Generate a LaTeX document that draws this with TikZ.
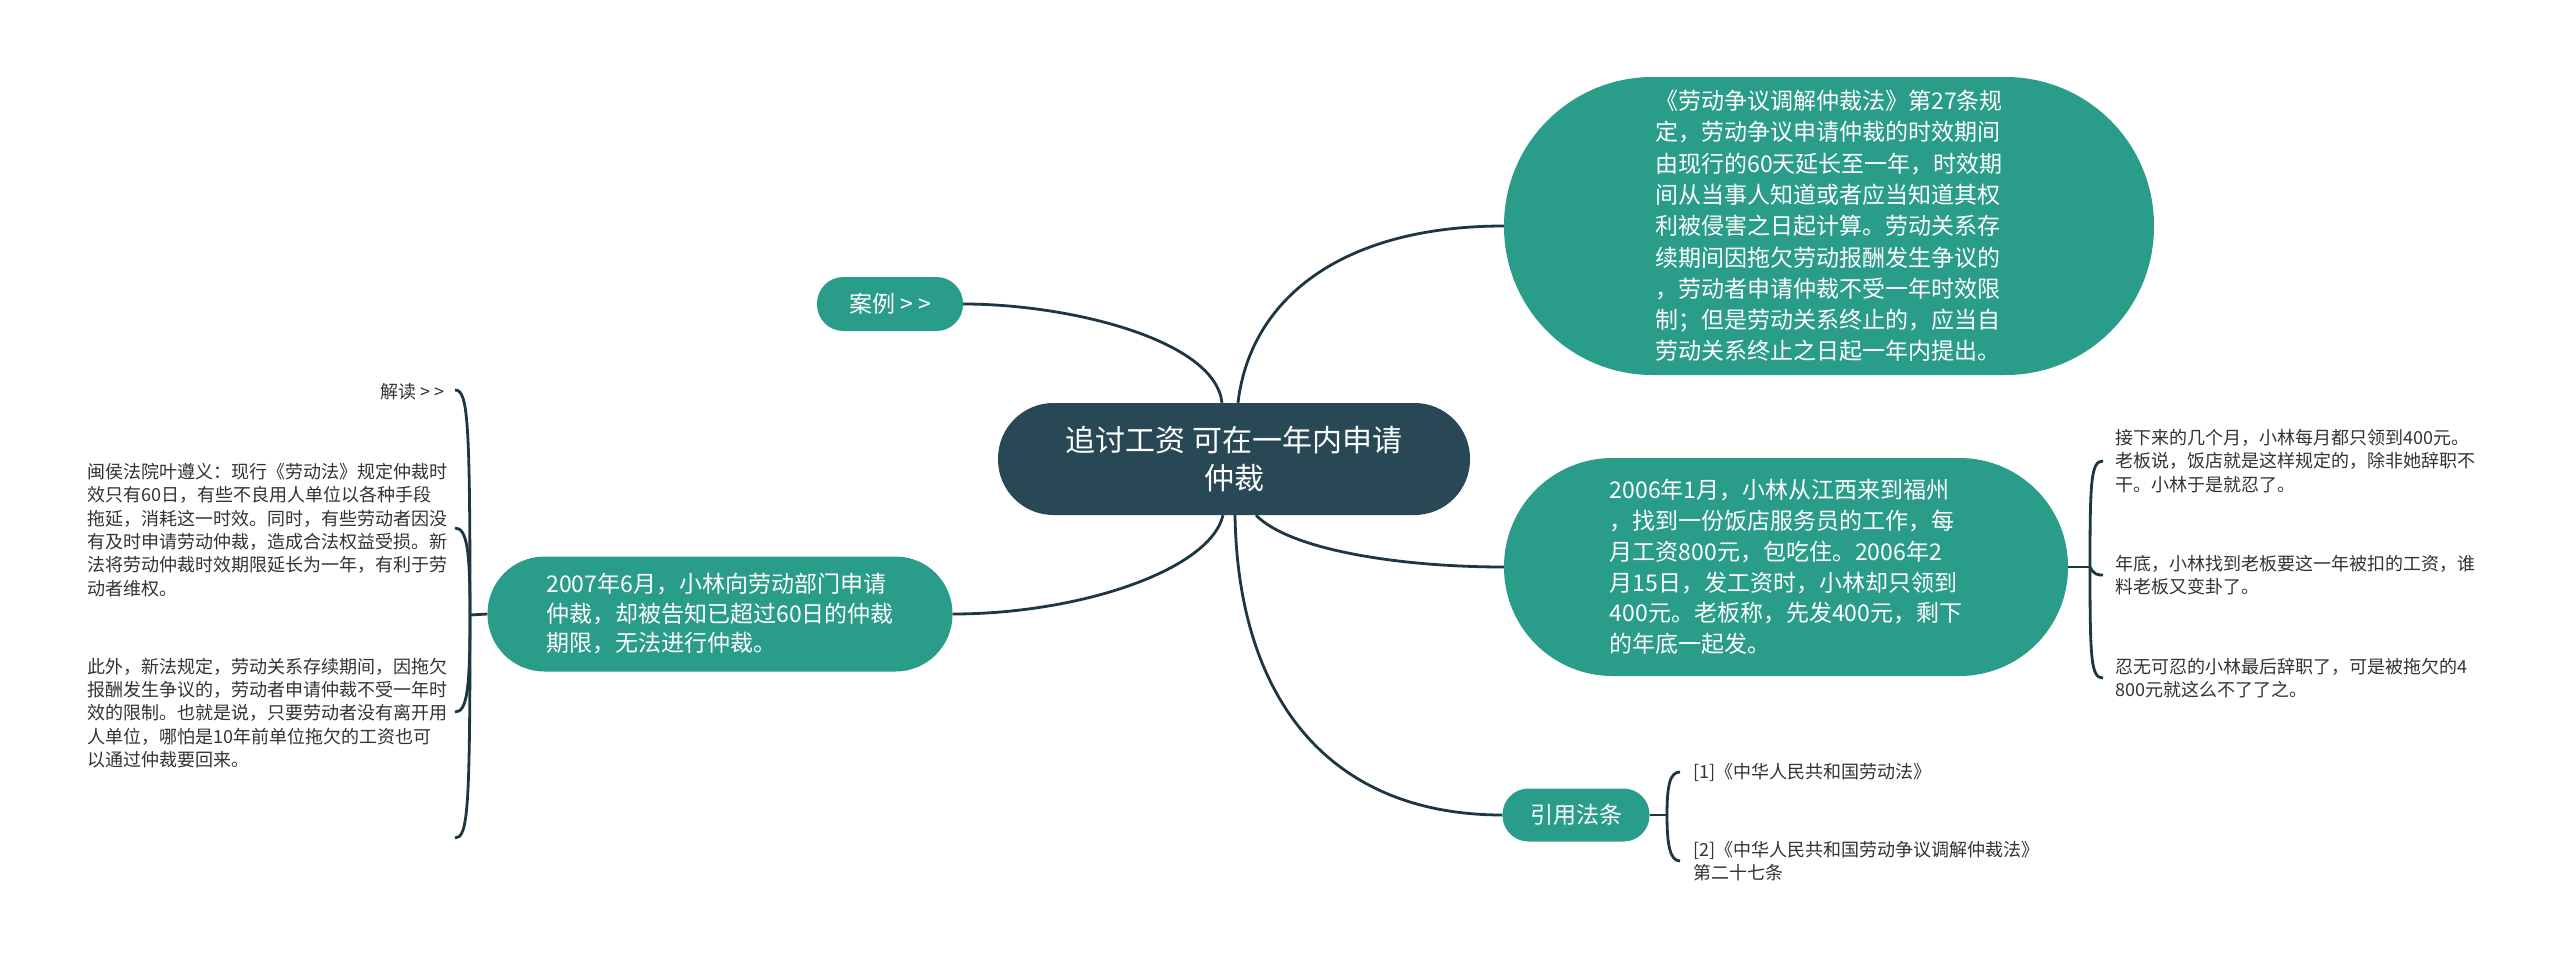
\documentclass[tikz,border=0pt]{standalone}
\usepackage{fontspec}
\setmainfont{Noto Sans CJK SC}
\usetikzlibrary{calc}
\definecolor{tealnode}{HTML}{2A9C8A}
\definecolor{navynode}{HTML}{284855}
\definecolor{linecol}{HTML}{1C3743}
\definecolor{leafcol}{HTML}{333333}
\newcommand{\nodefont}{\fontsize{23}{29.5}\selectfont}
\newcommand{\storyfont}{\fontsize{23}{30.8}\selectfont}
\newcommand{\lawfont}{\fontsize{23}{31.3}\selectfont}
\newcommand{\leaffont}{\fontsize{18}{23.4}\selectfont}
\begin{document}
\begin{tikzpicture}[x=1pt,y=-1pt,
  pill/.style={fill=tealnode, inner sep=0, text=white, align=left},
  conn/.style={draw=linecol, line width=2.8pt},
  leaf/.style={text=leafcol, align=left, inner sep=0, font=\leaffont},
]
\fill[white] (0,0) rectangle (2560,969);
\useasboundingbox (0,0) rectangle (2560,969);

% central topic
\node[fill=navynode, text=white, align=center, inner sep=0,
      minimum width=472pt, minimum height=112pt, rounded corners=55.5pt,
      font=\fontsize{30}{38}\selectfont] (root) at (1234,459)
      {追讨工资 可在一年内申请\\仲裁};

% main branches
\node[pill, minimum width=146pt, minimum height=54pt, rounded corners=26.5pt,
      font=\fontsize{23}{28}\selectfont] (case) at (890,304) {案例 > >};
\node[pill, minimum width=650pt, minimum height=298pt, rounded corners=148.5pt,
      font=\lawfont] (law) at (1829,226)
{《劳动争议调解仲裁法》第27条规\\定，劳动争议申请仲裁的时效期间\\由现行的60天延长至一年，时效期\\间从当事人知道或者应当知道其权\\利被侵害之日起计算。劳动关系存\\续期间因拖欠劳动报酬发生争议的\\，劳动者申请仲裁不受一年时效限\\制；但是劳动关系终止的，应当自\\劳动关系终止之日起一年内提出。};
\node[pill, minimum width=564pt, minimum height=218pt, rounded corners=108.5pt,
      font=\storyfont] (story) at (1786,567)
{2006年1月，小林从江西来到福州\\，找到一份饭店服务员的工作，每\\月工资800元，包吃住。2006年2\\月15日，发工资时，小林却只领到\\400元。老板称，先发400元，剩下\\的年底一起发。};
\node[pill, minimum width=465pt, minimum height=115pt, rounded corners=57pt,
      font=\nodefont] (act) at (720,614)
{2007年6月，小林向劳动部门申请\\仲裁，却被告知已超过60日的仲裁\\期限，无法进行仲裁。};
\node[pill, minimum width=147pt, minimum height=53pt, rounded corners=26pt,
      font=\fontsize{23}{28}\selectfont] (cite) at (1576,815) {引用法条};

% connectors from root
\draw[conn] ([xshift=-12pt]root.north) .. controls (1215,340) and (1070,304) .. (case.east);
\draw[conn] ([xshift=4pt]root.north) .. controls (1250,300) and (1340,226) .. (law.west);
\draw[conn] ([xshift=-11pt]root.south) .. controls (1210,570) and (1080,614) .. (act.east);
\draw[conn] ([xshift=1pt]root.south) .. controls (1238,700) and (1330,815) .. (cite.west);
\draw[conn] ([xshift=22pt]root.south) .. controls (1290,550) and (1400,567) .. (story.west);

% right leaves (story)
\node[leaf, anchor=west] (s1) at (2115,461)
  {接下来的几个月，小林每月都只领到400元。\\老板说，饭店就是这样规定的，除非她辞职不\\干。小林于是就忍了。};
\node[leaf, anchor=west] (s2) at (2115,575)
  {年底，小林找到老板要这一年被扣的工资，谁\\料老板又变卦了。};
\node[leaf, anchor=west] (s3) at (2115,678)
  {忍无可忍的小林最后辞职了，可是被拖欠的4\\800元就这么不了了之。};
\coordinate (rbr) at (2090,567);
\draw[conn] (story.east) -- (rbr);
\draw[conn] (rbr) .. controls (2090,480) and (2091,461) .. ([xshift=-12pt]s1.west);
\draw[conn] (rbr) .. controls (2094,575) and (2098,575) .. ([xshift=-12pt]s2.west);
\draw[conn] (rbr) .. controls (2090,660) and (2091,678) .. ([xshift=-12pt]s3.west);

% cite leaves
\node[leaf, anchor=west] (c1) at (1693,772) {[1]《中华人民共和国劳动法》};
\node[leaf, anchor=west] (c2) at (1693,861) {[2]《中华人民共和国劳动争议调解仲裁法》\\第二十七条};
\coordinate (cbr) at (1667,815);
\draw[conn] (cite.east) -- (cbr);
\draw[conn] (cbr) .. controls (1667,785) and (1670,772) .. ([xshift=-13pt]c1.west);
\draw[conn] (cbr) .. controls (1667,845) and (1670,861) .. ([xshift=-13pt]c2.west);

% left leaves (act)
\node[leaf, anchor=east] (jd) at (445,392) {解读 > >};
\node[leaf, anchor=west] (m1) at (87,530)
  {闽侯法院叶遵义：现行《劳动法》规定仲裁时\\效只有60日，有些不良用人单位以各种手段\\拖延，消耗这一时效。同时，有些劳动者因没\\有及时申请劳动仲裁，造成合法权益受损。新\\法将劳动仲裁时效期限延长为一年，有利于劳\\动者维权。};
\node[leaf, anchor=west] (m2) at (87,713)
  {此外，新法规定，劳动关系存续期间，因拖欠\\报酬发生争议的，劳动者申请仲裁不受一年时\\效的限制。也就是说，只要劳动者没有离开用\\人单位，哪怕是10年前单位拖欠的工资也可\\以通过仲裁要回来。};
\coordinate (lbr) at (470,615);
\coordinate (ljd) at (455,390);
\coordinate (lm1) at (455,528);
\coordinate (lm2) at (455,712);
\coordinate (lbot) at (455,838);
\draw[conn] (act.west) -- (lbr);
\draw[conn] (lbr) .. controls (470,420) and (468,390) .. (ljd);
\draw[conn] (lbr) .. controls (470,550) and (467,528) .. (lm1);
\draw[conn] (lbr) .. controls (470,690) and (467,712) .. (lm2);
\draw[conn] (lbr) .. controls (470,810) and (468,838) .. (lbot);
\end{tikzpicture}
\end{document}
